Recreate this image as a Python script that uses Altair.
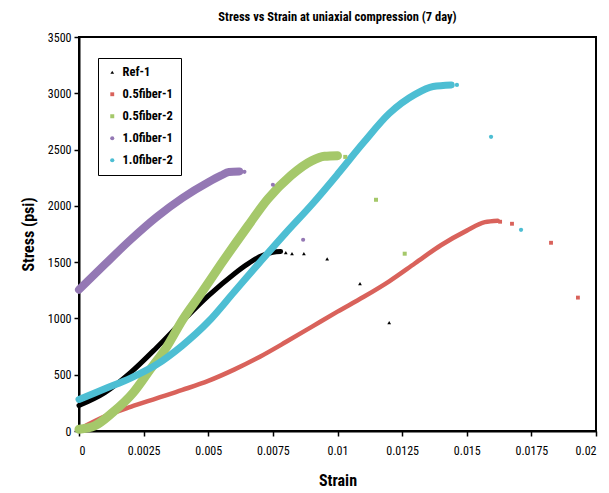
import altair as alt
import pandas as pd

SERIES = ["Ref-1", "0.5fiber-1", "0.5fiber-2", "1.0fiber-1", "1.0fiber-2"]
COLORS = ["#000000", "#D9625B", "#A5C86A", "#9478B4", "#4DBED3"]

# dense part of each curve (strain, stress in psi)
ref1_strain = [0, 0.001, 0.002, 0.003, 0.004, 0.005, 0.006, 0.0065, 0.007, 0.0075, 0.0078]
ref1_stress = [226, 340, 520, 740, 975, 1200, 1395, 1480, 1550, 1588, 1595]
f051_strain = [0, 0.001, 0.002, 0.003, 0.004, 0.005, 0.006, 0.007, 0.008, 0.009, 0.010, 0.011, 0.012, 0.013, 0.014, 0.015, 0.0157, 0.0162]
f051_stress = [15, 130, 215, 290, 365, 445, 545, 660, 790, 925, 1060, 1190, 1330, 1490, 1650, 1780, 1855, 1868]
f052_strain = [0, 0.0006, 0.0013, 0.0021, 0.00275, 0.0034, 0.004, 0.0047, 0.0055, 0.0065, 0.0073, 0.0082, 0.009, 0.0095, 0.0100]
f052_stress = [15, 45, 164, 341, 545, 750, 985, 1215, 1485, 1810, 2060, 2270, 2400, 2440, 2445]
f101_strain = [0, 0.001, 0.002, 0.003, 0.004, 0.005, 0.0055, 0.0058, 0.0062]
f101_stress = [1255, 1480, 1700, 1900, 2070, 2210, 2270, 2300, 2305]
f102_strain = [0, 0.001, 0.002, 0.003, 0.004, 0.005, 0.006, 0.007, 0.008, 0.009, 0.010, 0.011, 0.012, 0.013, 0.0137, 0.0144]
f102_stress = [280, 375, 470, 590, 760, 970, 1235, 1500, 1760, 2010, 2280, 2560, 2820, 2990, 3060, 3074]

# scattered post-peak readings
ref1_pts_strain = [0.0080, 0.00824, 0.0087, 0.0096, 0.01087, 0.0120]
ref1_pts_stress = [1584, 1575, 1575, 1530, 1309, 963]
f051_pts_strain = [0.01629, 0.01675, 0.01826, 0.0193]
f051_pts_stress = [1859, 1841, 1672, 1185]
f052_pts_strain = [0.0103, 0.01149, 0.0126]
f052_pts_stress = [2435, 2054, 1575]
f101_pts_strain = [0.0064, 0.0075, 0.00867]
f101_pts_stress = [2302, 2187, 1699]
f102_pts_strain = [0.01462, 0.01594, 0.0171]
f102_pts_stress = [3074, 2613, 1787]

X_TICKS = [0, 0.0025, 0.005, 0.0075, 0.01, 0.0125, 0.015, 0.0175, 0.02]
Y_TICKS = [0, 500, 1000, 1500, 2000, 2500, 3000, 3500]

curves = [(ref1_strain, ref1_stress), (f051_strain, f051_stress), (f052_strain, f052_stress),
          (f101_strain, f101_stress), (f102_strain, f102_stress)]
pts = [(ref1_pts_strain, ref1_pts_stress), (f051_pts_strain, f051_pts_stress), (f052_pts_strain, f052_pts_stress),
       (f101_pts_strain, f101_pts_stress), (f102_pts_strain, f102_pts_stress)]

curve_rows = []
for s, (xs, ys) in zip(SERIES, curves):
    for a, b in zip(xs, ys):
        curve_rows.append({"series": s, "strain": a, "stress": b})
curve_df = pd.DataFrame(curve_rows)

pt_rows = []
for s, (xs, ys) in zip(SERIES, pts):
    for a, b in zip(xs, ys):
        pt_rows.append({"series": s, "strain": a, "stress": b})
pt_df = pd.DataFrame(pt_rows)

FONT = "Liberation Sans Narrow, Roboto Condensed, Arial Narrow, sans-serif"

color_scale = alt.Scale(domain=SERIES, range=COLORS)
x_enc = alt.X("strain:Q", scale=alt.Scale(domain=[0, 0.02], nice=False),
              axis=alt.Axis(values=X_TICKS, format=".4~f", title="Strain", grid=False))
y_enc = alt.Y("stress:Q", scale=alt.Scale(domain=[0, 3500], nice=False),
              axis=alt.Axis(values=Y_TICKS, format="d", title="Stress (psi)", grid=False))

widths = [5, 4.5, 9, 8, 7]
layers = []
for s, c, w in zip(SERIES, COLORS, widths):
    layers.append(
        alt.Chart(curve_df).transform_filter(alt.datum.series == s)
        .mark_line(interpolate="monotone", strokeWidth=w, strokeCap="round", color=c)
        .encode(x=x_enc, y=y_enc)
    )

points = alt.Chart(pt_df).mark_point(filled=True, opacity=1).encode(
    x=x_enc, y=y_enc,
    color=alt.Color("series:N", scale=color_scale, legend=alt.Legend(
        title=None, orient="none", legendX=19, legendY=21,
        strokeColor="black", fillColor="white", padding=8, rowPadding=9,
        labelFont=FONT, labelFontSize=12.5, labelFontWeight="bold", labelColor="black",
        symbolSize=18)),
    shape=alt.Shape("series:N", scale=alt.Scale(domain=SERIES,
                    range=["triangle-up", "square", "square", "circle", "circle"])),
    size=alt.Size("series:N", scale=alt.Scale(domain=SERIES, range=[14, 18, 30, 28, 22]), legend=None),
)

chart = alt.layer(*layers, points).properties(
    width=517, height=394,
    title=alt.TitleParams("Stress vs Strain at uniaxial compression (7 day)", font=FONT,
                          fontSize=12.5, fontWeight="bold", color="black", anchor="middle", offset=8),
    autosize=alt.AutoSizeParams(type="none"),
    padding={"left": 79, "top": 37, "right": 13, "bottom": 62},
).configure_view(stroke="black", strokeWidth=2).configure_axis(
    domainColor="black", domainWidth=2, tickColor="black", tickWidth=1.5, tickSize=5,
    labelFont=FONT, labelFontSize=12, labelColor="black",
    titleFont=FONT, titleFontSize=16, titleFontWeight="bold", titleColor="black",
).configure_axisX(labelPadding=9, titlePadding=16).configure_axisY(labelPadding=3, titlePadding=11)

chart.save("out.html", embed_options={"renderer": "svg", "actions": False})
